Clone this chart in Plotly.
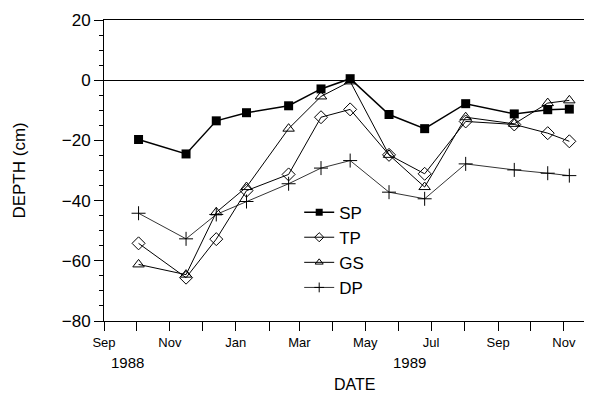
import plotly.graph_objects as go

dates = ["1988-10-03", "1988-11-16", "1988-12-14", "1989-01-11", "1989-02-19",
         "1989-03-21", "1989-04-17", "1989-05-23", "1989-06-25", "1989-08-02",
         "1989-09-16", "1989-10-17", "1989-11-06"]
sp = [-19.7, -24.5, -13.5, -10.8, -8.5, -2.9, 0.5, -11.4, -16.1, -7.8, -11.2, -9.8, -9.6]
tp = [-54.2, -65.6, -52.8, -36.7, -31.3, -12.3, -9.7, -24.8, -31.1, -13.7, -14.7, -17.6, -20.3]
gs = [-61.2, -64.6, -43.9, -35.5, -16.1, -5.4, -0.4, -24.8, -35.5, -12.3, -14.5, -7.6, -6.7]
dp = [-44.2, -52.7, -44.6, -40.3, -34.4, -29.2, -26.7, -37.2, -39.4, -27.8, -29.8, -30.9, -31.7]

month_ticks = ["1988-09-01", "1988-10-01", "1988-11-01", "1988-12-01", "1989-01-01",
               "1989-02-01", "1989-03-01", "1989-04-01", "1989-05-01", "1989-06-01",
               "1989-07-01", "1989-08-01", "1989-09-01", "1989-10-01", "1989-11-01"]
month_labels = ["Sep", "", "Nov", "", "Jan", "", "Mar", "", "May", "", "Jul", "", "Sep", "", "Nov"]
y_ticks = [-80, -60, -40, -20, 0, 20]

FONT = "Liberation Sans, Arial, sans-serif"

series = [
    ("SP", sp, dict(symbol="square", color="black"), 1.5, 9),
    ("TP", tp, dict(symbol="diamond-open", color="black", line=dict(width=1)), 1, 10),
    ("GS", gs, dict(symbol="triangle-up-open", color="black", line=dict(width=1)), 1, 10),
    ("DP", dp, dict(symbol="cross-thin-open", color="black", line=dict(width=1, color="black")), 0.8, 10),
]

fig = go.Figure()
for name, vals, mk, lw, ms in series:
    fig.add_trace(go.Scatter(x=dates, y=vals, name=name, mode="lines+markers",
                             line=dict(color="black", width=lw),
                             marker=dict(size=ms, **mk), showlegend=False))
for name, vals, mk, lw, ms in series:
    fig.add_trace(go.Scatter(x=[None], y=[None], name=name, mode="lines+markers",
                             line=dict(color="black", width=lw),
                             marker=dict(size=7, **mk), showlegend=True))

fig.update_layout(
    width=584, height=388,
    margin=dict(l=96, r=0, t=12, b=75),
    paper_bgcolor="white", plot_bgcolor="white",
    font=dict(family=FONT, color="black"),
    showlegend=True,
    legend=dict(x=0.40, y=0.42, xanchor="left", yanchor="top",
                font=dict(size=17, family=FONT, color="black"),
                bgcolor="rgba(0,0,0,0)", tracegroupgap=0, itemwidth=30),
    xaxis=dict(range=["1988-09-01", "1989-11-27"], tickmode="array",
               tickvals=month_ticks, ticktext=month_labels,
               ticks="outside", ticklen=9, tickcolor="black", tickwidth=1,
               showline=True, linecolor="black", linewidth=1, mirror=True,
               showgrid=False, zeroline=False,
               tickfont=dict(size=13, family=FONT, color="black")),
    yaxis=dict(range=[-80, 20], tickmode="array", tickvals=y_ticks,
               ticks="outside", ticklen=9, tickcolor="black", tickwidth=1,
               minor=dict(dtick=5, tick0=0, ticks="outside", ticklen=4,
                          tickcolor="black", showgrid=False),
               showline=True, linecolor="black", linewidth=1,
               showgrid=False, zeroline=True, zerolinecolor="black", zerolinewidth=1,
               tickfont=dict(size=17, family=FONT, color="black")),
    annotations=[
        dict(text="1988", x=0.049, y=-0.137, xref="paper", yref="paper",
             xanchor="center", yanchor="middle",
             showarrow=False, font=dict(size=15, family=FONT)),
        dict(text="1989", x=0.625, y=-0.137, xref="paper", yref="paper",
             xanchor="center", yanchor="middle",
             showarrow=False, font=dict(size=15, family=FONT)),
        dict(text="DATE", x=0.514, y=-0.212, xref="paper", yref="paper",
             xanchor="center", yanchor="middle",
             showarrow=False, font=dict(size=16, family=FONT)),
        dict(text="DEPTH (cm)", x=-0.174, y=0.5, xref="paper", yref="paper",
             xanchor="center", yanchor="middle",
             textangle=-90, showarrow=False, font=dict(size=17, family=FONT)),
    ],
)

fig.write_html("out.html")
